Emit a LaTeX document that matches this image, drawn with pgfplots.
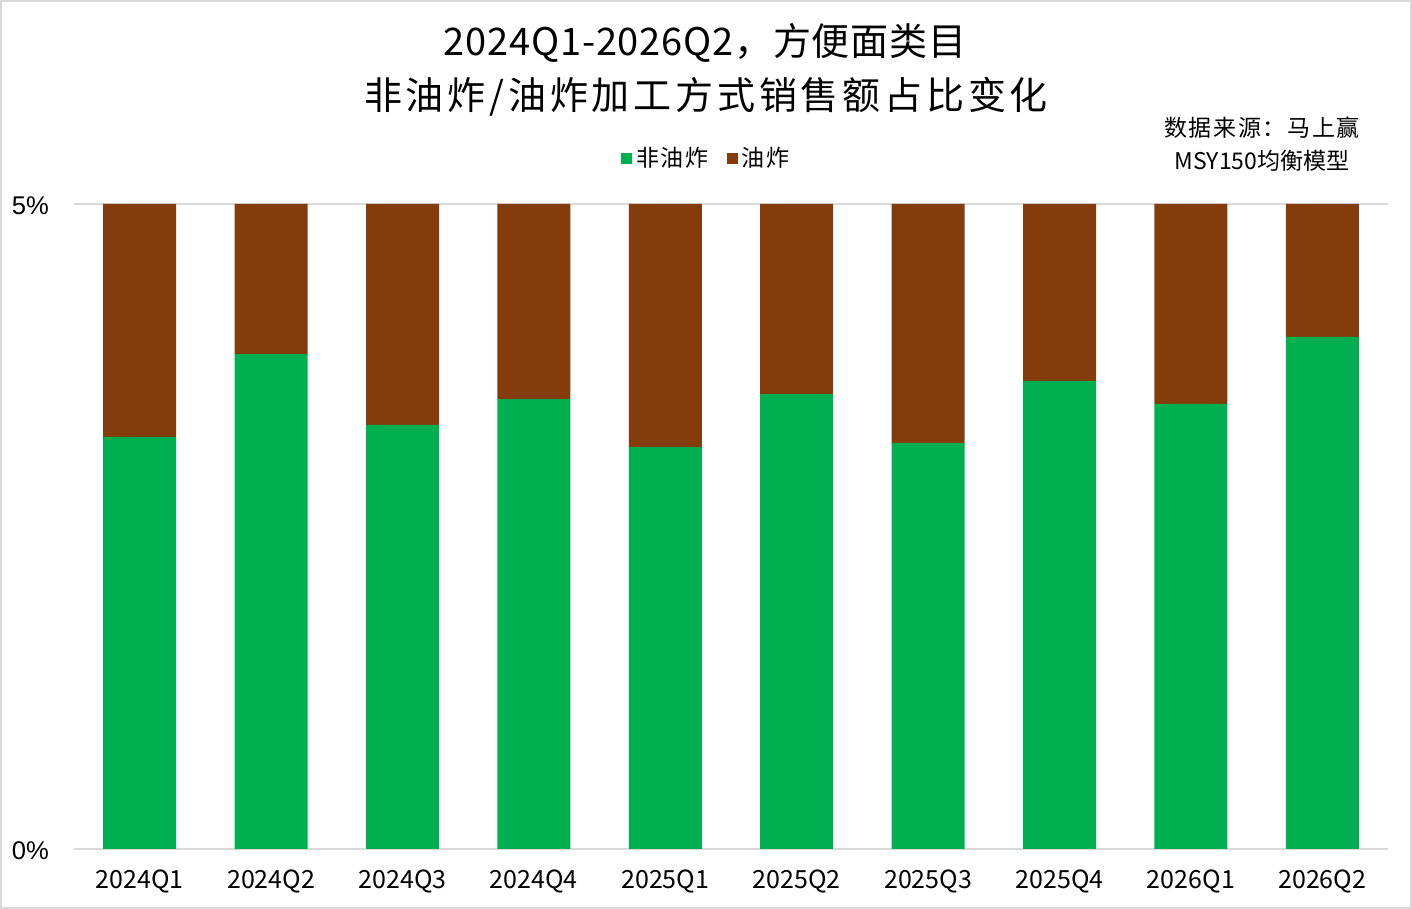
\documentclass[border=0pt]{standalone}
\usepackage{pgfplots}
\pgfplotsset{compat=1.18}
\usepackage{fontspec}
\setmainfont{Noto Sans CJK SC}
\newfontfamily\arialf{Liberation Sans}
\definecolor{cgreen}{HTML}{00B050}
\definecolor{cbrown}{HTML}{843C0C}
\definecolor{cgrid}{HTML}{D9D9D9}
\begin{document}
\begin{tikzpicture}
\useasboundingbox (0,0) rectangle (706pt,454.5pt);
\draw[cgrid, line width=1.2pt] (0.6pt,0.6pt) rectangle (705.4pt,453.9pt);
\begin{axis}[
  at={(37pt,30pt)}, anchor=south west,
  scale only axis, width=657pt, height=322.5pt,
  ybar stacked, bar width=36.5pt,
  xmin=-0.5, xmax=9.5, ymin=0, ymax=5,
  xtick={0,...,9},
  xticklabels={2024Q1,2024Q2,2024Q3,2024Q4,2025Q1,2025Q2,2025Q3,2025Q4,2026Q1,2026Q2},
  ytick={0,5}, yticklabels={0\%,5\%},
  major tick length=0pt,
  axis line style={draw=none},
  ymajorgrids, major grid style={cgrid, line width=0.9pt},
  xticklabel style={font=\fontsize{12.5}{14}\selectfont, yshift=-7pt},
  yticklabel style={font=\arialf\fontsize{12.8}{14}\selectfont, xshift=-9pt, yshift=-1pt},
  legend columns=2,
  legend style={at={(0.482,1.071)}, anchor=center, draw=none, fill=none,
    font=\fontsize{11.5}{13}\selectfont\addfontfeatures{LetterSpace=8}, column sep=0pt,
    /tikz/every even column/.append style={column sep=7pt}},
  legend image code/.code={\fill[#1] (0pt,-2.75pt) rectangle (5.5pt,2.75pt);},
]
\addplot[fill=cgreen, draw=none] coordinates {(0,3.194) (1,3.837) (2,3.287) (3,3.488) (4,3.116) (5,3.527) (6,3.147) (7,3.628) (8,3.450) (9,3.969)};
\addplot[fill=cbrown, draw=none] coordinates {(0,1.806) (1,1.163) (2,1.713) (3,1.512) (4,1.884) (5,1.473) (6,1.853) (7,1.372) (8,1.550) (9,1.031)};
\legend{非油炸,油炸}
\end{axis}
\node[font=\fontsize{19}{22}\selectfont\addfontfeatures{LetterSpace=2}] at (352.5pt,433pt) {2024Q1-2026Q2，方便面类目};
\node[font=\fontsize{19}{22}\selectfont\addfontfeatures{LetterSpace=10}] at (353pt,406pt) {非油炸/油炸加工方式销售额占比变化};
\node[font=\fontsize{11.5}{13}\selectfont\addfontfeatures{LetterSpace=7}] at (631pt,390.5pt) {数据来源：马上赢};
\node[font=\fontsize{11.5}{13}\selectfont] at (631pt,374pt) {MSY150均衡模型};
\end{tikzpicture}
\end{document}
